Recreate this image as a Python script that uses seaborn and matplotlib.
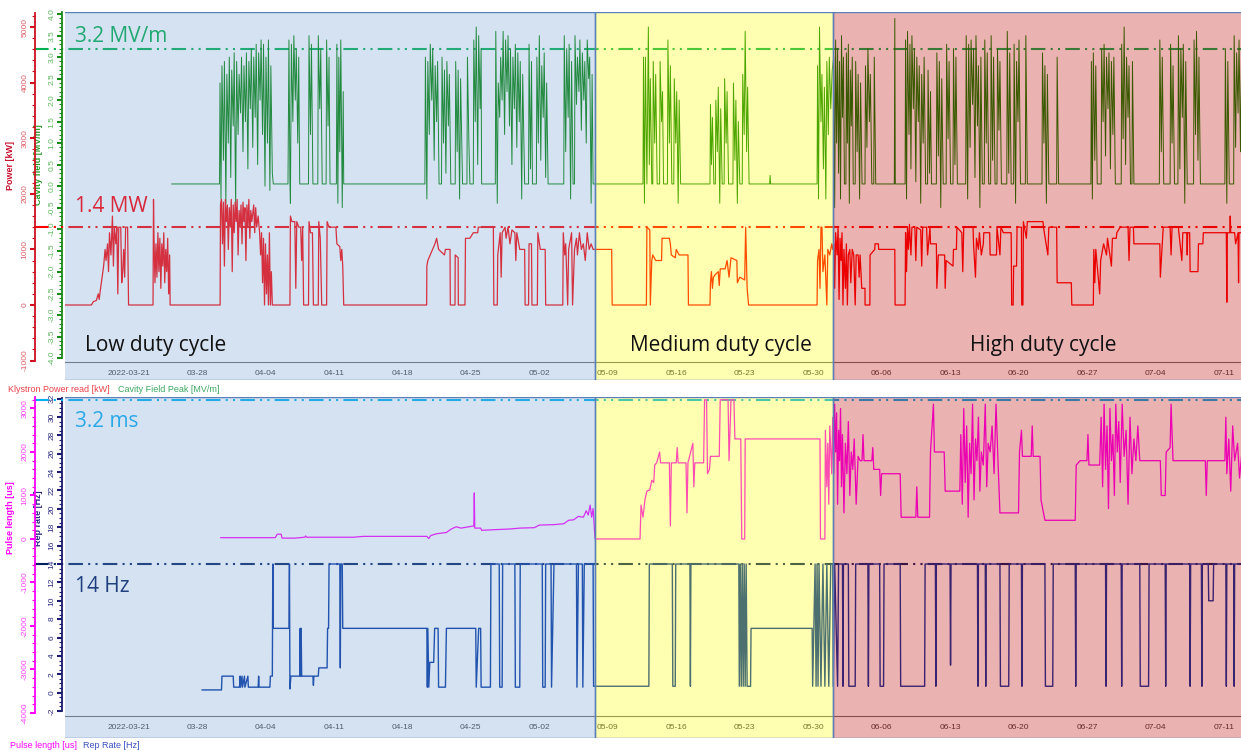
import numpy as np
import pandas as pd
import seaborn as sns
import matplotlib.pyplot as plt
import matplotlib.dates as mdates
from matplotlib.ticker import FixedLocator, FormatStrFormatter

# time axis: days counted from 2022-03-14
start = pd.Timestamp('2022-03-14')

# Cavity field peak [MV/m]  (day, value)
field_pts = [
    (11.4, 0.05), (16.3, 0.05),
    (16.35, 2.4), (16.45, -0.3), (16.55, 2.8), (16.7, 0.6), (16.8, 2.9), (16.95, -0.4), (17.05, 2.6), (17.2, 1.0),
    (17.3, 3.0), (17.45, 0.2), (17.55, 2.7), (17.7, 1.4), (17.8, 3.1), (17.95, -0.5), (18.05, 2.9), (18.2, 1.2),
    (18.3, 2.6), (18.45, 1.7), (18.55, 3.0), (18.7, 0.8), (18.8, 2.8), (18.95, 1.5), (19.05, 3.1), (19.2, 0.4),
    (19.3, 2.9), (19.45, 1.8), (19.55, 3.2), (19.7, 0.9), (19.8, 3.0), (19.95, 1.6), (20.05, 3.3), (20.2, 0.5),
    (20.3, 3.1), (20.45, 2.0), (20.55, 3.4), (20.7, 1.2), (20.8, 3.3), (20.95, 0.0), (21.05, 3.0), (21.2, 1.0),
    (21.3, 3.4), (21.45, -0.1), (21.55, 2.8), (21.7, 0.3), (21.8, 0.05),
    (23.3, 0.05), (23.4, 3.4), (23.5, 0.1), (23.55, -0.4), (23.65, 3.3), (23.8, 1.5), (23.9, 3.5), (24.05, 2.0),
    (24.15, 3.2), (24.3, 1.0), (24.4, 3.0), (24.5, 0.05),
    (25.4, 0.05), (25.45, 3.5), (25.6, 1.2), (25.7, 3.3), (25.85, 0.05),
    (26.35, 0.05), (26.4, 3.5), (26.55, 1.8), (26.65, 3.2), (26.8, 0.05),
    (27.2, 0.05), (27.25, 3.4), (27.4, 1.4), (27.5, 3.0), (27.6, 0.05),
    (28.25, 0.05), (28.3, 3.3), (28.4, -0.4), (28.5, 3.0), (28.6, 0.8), (28.7, 3.4), (28.85, -0.5), (28.95, 2.2),
    (29.0, 0.05),
    (37.3, 0.05), (37.35, 3.0), (37.5, -0.3), (37.6, 2.9), (37.75, 1.2), (37.85, 3.3), (38.0, 2.0), (38.1, 3.2),
    (38.25, 0.6), (38.35, 2.8), (38.5, 1.5), (38.6, 2.9), (38.75, 0.05), (39.0, 0.05), (39.05, 3.0), (39.2, 1.0),
    (39.3, 2.7), (39.45, 0.3), (39.55, 2.9), (39.7, 1.4), (39.8, 2.6), (39.95, 0.05), (40.4, 0.05), (40.45, 2.9),
    (40.6, 0.8), (40.7, 2.7), (40.85, -0.3), (40.95, 2.5), (41.15, 0.05), (41.6, 0.05), (41.65, 3.0), (41.8, 1.0),
    (41.9, 0.05), (42.25, 0.05), (42.3, 3.4), (42.45, 1.5), (42.55, 3.7), (42.7, 0.5), (42.8, 3.5), (42.95, 1.8),
    (43.05, 3.2), (43.1, 0.05),
    (44.5, 0.05), (44.55, 3.6), (44.7, -0.4), (44.8, 2.4), (44.95, 1.6), (45.05, 3.0), (45.2, 2.0), (45.3, 3.6),
    (45.45, 1.2), (45.55, 3.4), (45.7, 2.2), (45.8, 3.5), (45.95, 1.4), (46.05, 3.2), (46.2, 0.5), (46.3, 3.0),
    (46.45, 1.8), (46.55, 3.3), (46.7, 0.9), (46.8, 3.1), (46.95, 1.5), (47.05, 2.9), (47.2, -0.3), (47.3, 2.6),
    (47.5, 0.05), (47.9, 0.05), (47.95, 3.3), (48.1, 0.4), (48.2, 2.9), (48.3, 0.05), (48.7, 0.05), (48.75, 3.0),
    (48.9, 1.0), (49.0, 3.5), (49.15, 0.6), (49.25, 2.8), (49.4, 1.6), (49.5, 3.1), (49.65, 0.2), (49.75, 2.4),
    (49.9, 0.05),
    (51.5, 0.05), (51.55, 3.5), (51.7, 0.8), (51.8, 3.2), (51.95, 1.6), (52.05, 3.3), (52.2, -0.3), (52.3, 2.9),
    (52.45, 0.05), (52.6, 0.05), (52.65, 3.5), (52.8, 1.9), (52.9, 3.0), (53.05, 2.2), (53.15, 3.4), (53.3, 1.3),
    (53.4, 3.1), (53.55, 2.0), (53.65, 2.9), (53.8, 1.0), (53.9, 3.4), (54.05, 2.5), (54.15, 3.0), (54.3, -0.4),
    (54.4, 2.6), (54.5, 0.05),
    (59.6, 0.05), (59.65, 3.0), (59.75, -0.4), (59.85, 3.0), (60.0, 0.05), (60.15, 3.7), (60.25, 0.5), (60.35, 2.5),
    (60.5, 0.05), (60.6, 0.05), (60.65, 2.9), (60.8, 1.0), (60.9, 2.6), (61.05, 0.05), (61.3, 0.05), (61.35, 2.9),
    (61.5, 1.5), (61.6, 2.2), (61.7, 0.05), (62.1, 0.05), (62.15, 3.4), (62.3, 1.0), (62.4, 2.8), (62.55, 0.05),
    (62.75, 0.05), (62.8, 2.5), (62.95, 1.0), (63.05, 2.2), (63.2, -0.4), (63.3, 2.0), (63.45, 0.05),
    (66.45, 0.05), (66.5, 1.9), (66.6, 0.5), (66.7, 1.6), (66.85, 0.05), (67.0, 0.05), (67.05, 2.0), (67.2, 0.8),
    (67.3, 2.3), (67.45, -0.4), (67.55, 1.8), (67.7, 0.05), (67.9, 0.05), (67.95, 2.5), (68.1, 1.0), (68.2, 2.2),
    (68.35, 0.05), (68.8, 0.05), (68.85, 2.4), (69.0, 0.6), (69.1, 2.0), (69.25, -0.4), (69.35, 1.5), (69.5, 0.05),
    (69.75, 0.05), (69.8, 2.6), (69.95, 1.2), (70.05, 3.6), (70.2, 0.8), (70.3, 2.3), (70.45, 0.05),
    (72.55, 0.05), (72.6, 0.25), (72.65, 0.05),
    (77.4, 0.05), (77.45, 2.8), (77.55, -0.3), (77.65, 3.7), (77.8, 1.5), (77.9, 2.6), (78.05, 0.4), (78.15, 2.3),
    (78.3, -0.3), (78.4, 2.9), (78.55, 1.2), (78.65, 3.0), (78.8, 1.8), (78.95, 2.7),
    (79.1, 3.0), (79.2, -0.5), (79.3, 3.4), (79.4, 1.0), (79.5, 3.2), (79.6, 0.3), (79.7, 2.9), (79.8, -0.3),
    (79.9, 3.5), (80.0, 1.6), (80.1, 3.0), (80.2, 0.05), (80.35, 0.05), (80.4, 3.1), (80.5, 1.0), (80.6, 3.3),
    (80.7, -0.4), (80.8, 2.7), (80.9, 1.4), (81.0, 3.0), (81.1, 0.05), (81.3, 0.05), (81.35, 2.9), (81.5, 0.8),
    (81.6, 2.6), (81.75, -0.3), (81.85, 2.4), (82.0, 0.05), (82.3, 0.05), (82.35, 2.8), (82.5, 0.9), (82.6, 3.2),
    (82.75, 1.5), (82.85, 2.6), (83.0, 0.05), (83.2, 0.05), (83.25, 3.0), (83.4, 0.05), (85.3, 0.05), (85.35, 3.9),
    (85.4, 0.05), (86.4, 0.05), (86.45, 3.4), (86.55, -0.3), (86.65, 3.6), (86.8, 1.2), (86.9, 3.3), (87.0, 0.4),
    (87.1, 3.5), (87.25, 1.8), (87.35, 3.2), (87.5, 0.1), (87.6, 3.0), (87.75, 1.5), (87.85, 2.8), (88.0, -0.4),
    (88.1, 2.6), (88.25, 1.0), (88.35, 3.0), (88.5, 0.05), (88.7, 0.05), (88.75, 2.7), (88.9, 0.3), (89.0, 2.2),
    (89.1, 0.05), (89.6, 0.05), (89.65, 3.1), (89.8, 0.7), (89.9, 2.9), (90.05, -0.5), (90.15, 2.5), (90.3, 0.05),
    (90.6, 0.05), (90.65, 3.3), (90.8, 1.1), (90.9, 2.9), (91.05, 0.05), (91.3, 0.05), (91.35, 3.2), (91.5, 0.5),
    (91.6, 3.0), (91.75, 0.05), (92.6, 0.05), (92.65, 3.5), (92.8, -0.3), (92.9, 3.3), (93.05, 0.9), (93.15, 3.4),
    (93.3, 1.9), (93.4, 3.2), (93.55, 0.2), (93.65, 3.5), (93.8, 1.4), (93.9, 2.8), (94.05, -0.5), (94.15, 3.0),
    (94.3, 0.05), (94.5, 0.05), (94.55, 3.4), (94.7, 1.0), (94.8, 3.1), (94.95, 0.05), (95.15, 0.05), (95.2, 3.5),
    (95.35, 0.6), (95.45, 3.0), (95.6, 0.05), (95.8, 0.05), (95.85, 3.2), (96.0, 1.3), (96.1, 2.9), (96.25, 0.05),
    (96.8, 0.05), (96.85, 3.6), (97.0, 0.3), (97.1, 3.1), (97.25, 0.05), (97.5, 0.05), (97.55, 3.3), (97.7, -0.4),
    (97.8, 2.9), (97.95, 1.5), (98.05, 3.4), (98.2, 0.05), (98.7, 0.05), (98.75, 3.5), (98.9, 0.05),
    (100.4, 0.05), (100.45, 3.1), (100.6, 1.0), (100.7, 2.8), (100.85, -0.4), (100.95, 2.6), (101.1, 0.05),
    (101.9, 0.05), (101.95, 3.0), (102.1, 0.05),
    (105.4, 0.05), (105.45, 2.9), (105.55, -0.3), (105.65, 3.1), (105.8, 0.6), (105.9, 2.8), (106.05, 0.05),
    (106.45, 0.05), (106.5, 3.2), (106.65, 1.5), (106.75, 3.3), (106.9, 0.7), (107.0, 3.0), (107.15, 1.8),
    (107.25, 3.1), (107.4, 0.4), (107.5, 2.9), (107.65, 1.2), (107.75, 3.0), (107.9, 0.05), (108.5, 0.05),
    (108.55, 3.3), (108.7, 1.1), (108.8, 3.7), (108.95, 0.5), (109.05, 3.0), (109.2, 1.6), (109.3, 2.8),
    (109.45, 0.05), (109.6, 0.05), (109.65, 2.9), (109.8, 0.05),
    (112.4, 0.05), (112.45, 3.4), (112.6, 0.8), (112.7, 3.0), (112.85, 0.05), (113.5, 0.05), (113.55, 3.3),
    (113.7, 1.0), (113.8, 2.8), (113.95, 0.05), (114.3, 0.05), (114.35, 3.5), (114.5, 0.4), (114.6, 3.2),
    (114.75, 1.6), (114.85, 3.3), (115.0, -0.4), (115.1, 2.9), (115.25, 0.05), (115.9, 0.05), (115.95, 3.4),
    (116.1, 1.2), (116.2, 3.6), (116.35, 0.6), (116.45, 3.0), (116.6, 0.05),
    (119.1, 0.05), (119.15, 3.2), (119.3, -0.4), (119.4, 2.9), (119.55, 0.05), (120.0, 0.05), (120.05, 3.5),
    (120.2, 0.9), (120.3, 3.1), (120.45, 1.7), (120.55, 3.4), (120.7, 0.8), (120.8, 3.0),
]

# Klystron power read [kW]
power_pts = [
    (0.5, 0), (3.2, 0), (3.4, 60), (3.7, 80), (3.9, 200), (4.0, 100), (4.1, 250), (4.3, 500), (4.45, 700),
    (4.6, 1000), (4.7, 800), (4.85, 1100), (4.95, 600), (5.05, 1300), (5.2, 900), (5.35, 1600), (5.45, 700),
    (5.55, 1400), (5.7, 1100), (5.8, 1400), (5.9, 200), (6.0, 1400), (6.2, 1400), (6.3, 400), (6.4, 600),
    (6.5, 1000), (6.6, 500), (6.7, 1400), (6.9, 1400), (7.0, 0),
    (9.5, 0), (9.55, 1900), (9.6, 1200), (9.7, 400), (9.8, 1100), (9.9, 500), (10.0, 1300), (10.1, 600),
    (10.2, 1200), (10.3, 300), (10.4, 1100), (10.5, 700), (10.6, 1300), (10.7, 400), (10.8, 1000), (10.9, 600),
    (11.0, 1200), (11.1, 200), (11.2, 900), (11.25, 0),
    (16.36, 0), (16.4, 1800), (16.5, 1900), (16.6, 1100), (16.7, 1850), (16.8, 700), (16.9, 1900), (17.0, 1500),
    (17.1, 1800), (17.2, 1000), (17.3, 1750), (17.4, 1400), (17.5, 1900), (17.6, 600), (17.7, 1800), (17.8, 1300),
    (17.9, 1850), (18.0, 1500), (18.1, 1900), (18.2, 900), (18.3, 1700), (18.4, 1400), (18.5, 1800), (18.6, 1100),
    (18.7, 1850), (18.8, 1500), (18.9, 1750), (19.0, 800), (19.1, 1800), (19.2, 1400), (19.3, 1900), (19.4, 1200),
    (19.5, 1700), (19.6, 1500), (19.8, 1800), (19.9, 1300), (20.0, 1750), (20.1, 1400), (20.25, 1600),
    (20.4, 1300), (20.5, 900), (20.6, 1300), (20.7, 400), (20.8, 1200), (20.9, 0), (21.0, 1100), (21.1, 200),
    (21.2, 900), (21.3, 0), (21.4, 1300), (21.5, 0), (21.6, 600), (21.7, 0),
    (23.5, 0), (23.55, 1600), (23.7, 1500), (24.0, 1500), (24.1, 300), (24.2, 1500), (24.4, 1400), (24.6, 1400),
    (24.7, 800), (24.8, 1400), (24.9, 0), (25.4, 0), (25.45, 1500), (25.6, 1300), (25.8, 1300), (25.9, 0),
    (26.4, 0), (26.45, 1500), (26.6, 1200), (26.75, 0), (27.25, 0), (27.3, 1500), (27.5, 1400), (28.2, 1400),
    (28.3, 1100), (28.6, 1050), (28.7, 800), (28.8, 1000), (28.9, 700), (29.0, 0),
    (37.48, 0), (37.5, 700), (37.6, 800), (38.33, 1100), (38.5, 1200), (38.7, 1000), (39.3, 900), (39.4, 1000),
    (39.87, 1000), (39.9, 0), (40.38, 0), (40.4, 900), (40.7, 850), (40.72, 0), (41.4, 0), (41.45, 1200),
    (41.9, 1200), (42.25, 1300), (42.7, 1300), (42.76, 1400), (44.3, 1400), (44.35, 0), (44.7, 0), (44.75, 900),
    (45.0, 1300), (45.1, 500), (45.2, 1300), (45.5, 1400), (45.6, 1200), (45.8, 1400), (46.0, 1100),
    (46.2, 1350), (46.5, 1300), (46.6, 800), (46.7, 1300), (47.0, 1000), (47.5, 1000), (47.55, 0), (47.9, 0),
    (47.95, 1100), (48.2, 1100), (48.25, 0), (48.8, 0), (48.85, 1300), (49.1, 1000), (49.6, 1000), (49.65, 0),
    (51.4, 0), (51.45, 1300), (51.6, 900), (51.7, 1100), (51.9, 0), (52.0, 1000), (52.3, 1300), (52.4, 0),
    (52.6, 1000), (52.8, 1200), (52.9, 900), (53.1, 1300), (53.3, 1000), (53.5, 1100), (53.7, 800), (53.9, 1300),
    (54.1, 1000), (54.3, 1100), (54.5, 1000),
    (56.4, 1000), (56.45, 0), (59.95, 0), (60.0, 1400), (60.3, 1350), (60.35, 0), (60.5, 800), (60.6, 900),
    (60.9, 800), (61.5, 800), (61.55, 1200), (62.3, 1200), (62.4, 1100), (62.5, 900), (62.9, 850), (63.0, 1000),
    (63.3, 900), (64.2, 900), (64.25, 0), (66.45, 0), (66.5, 400), (66.6, 600), (66.7, 300), (66.8, 500),
    (67.0, 550), (67.3, 600), (67.4, 350), (67.5, 650), (68.0, 650), (68.2, 800), (68.4, 500), (68.6, 850),
    (69.2, 800), (69.25, 400), (69.5, 500), (70.0, 450), (70.1, 1400), (70.25, 300), (70.4, 0),
    (77.4, 0), (77.45, 800), (77.6, 1000), (77.7, 300), (77.8, 1400), (77.9, 1400), (78.0, 600), (78.2, 900),
    (78.4, 0), (78.5, 1000), (78.7, 900), (78.9, 1100), (79.0, 1000),
    (79.1, 1100), (79.2, 300), (79.3, 1300), (79.45, 900), (79.55, 1400), (79.65, 100), (79.75, 1200),
    (79.85, 800), (79.95, 1300), (80.05, 0), (80.15, 1000), (80.3, 300), (80.4, 1100), (80.5, 0), (80.6, 900),
    (80.75, 1000), (80.85, 400), (81.0, 1000), (81.15, 900), (81.3, 0), (81.4, 900), (81.6, 900), (81.7, 500),
    (81.8, 900), (81.97, 300), (82.3, 300), (82.31, 0), (82.8, 0), (82.82, 900), (83.3, 1000), (83.33, 1100),
    (83.67, 1100), (83.7, 1000), (85.35, 1000), (85.38, 0), (86.4, 0), (86.45, 1300), (86.55, 600),
    (86.65, 1400), (86.75, 1000), (86.85, 1450), (87.0, 900), (87.1, 1400), (87.4, 1400), (87.5, 800),
    (87.6, 1400), (88.0, 1350), (88.1, 700), (88.2, 1400), (88.6, 1400), (88.7, 900), (88.95, 1400),
    (89.0, 1100), (89.6, 1100), (89.65, 300), (89.8, 900), (90.45, 900), (90.5, 300), (90.6, 800), (91.3, 700),
    (91.35, 1000), (91.65, 1000), (91.7, 1400), (92.2, 1300), (92.3, 600), (92.4, 1400), (93.35, 1400),
    (93.4, 1100), (93.6, 500), (93.7, 1200), (93.9, 1000), (94.0, 1300), (94.2, 900), (94.4, 1100),
    (94.45, 1300), (95.05, 1300), (95.1, 900), (95.75, 900), (95.8, 1400), (96.1, 900), (96.2, 1400),
    (96.45, 1300), (97.25, 1300), (97.3, 0), (97.45, 0), (97.5, 700), (97.8, 700), (97.85, 1400), (98.3, 1400),
    (98.33, 0), (98.45, 0), (98.5, 1500), (98.8, 1200), (98.9, 1500), (100.5, 1500), (100.55, 1400),
    (101.0, 900), (101.1, 1400), (101.9, 1400), (101.95, 400), (103.4, 400), (103.45, 0), (105.65, 0),
    (105.7, 1000), (105.8, 400), (105.9, 1000), (106.0, 800), (106.3, 200), (106.4, 800), (106.7, 1100),
    (107.0, 900), (107.1, 1200), (107.5, 700), (107.6, 1200), (108.0, 1200), (108.05, 1300), (108.4, 1400),
    (109.2, 1400), (109.3, 800), (109.4, 1400), (109.75, 1400), (109.8, 1100), (112.45, 1100), (112.5, 500),
    (112.8, 1400), (113.5, 1400), (113.6, 900), (113.7, 1400), (114.35, 1400), (114.4, 1300), (114.7, 800),
    (114.8, 1300), (115.2, 1300), (115.25, 900), (115.3, 1300), (115.5, 1300), (115.55, 600), (116.35, 600),
    (116.4, 1100), (116.85, 1100), (116.9, 1300), (119.25, 1300), (119.3, 50), (119.35, 1300), (119.6, 1300),
    (119.65, 1600), (119.7, 1300), (120.1, 1300), (120.2, 1100), (120.45, 1300), (120.5, 400), (120.55, 1300),
    (120.8, 1300),
]

# Pulse length [us]
pulse_pts = [
    (16.4, 30), (22.0, 30), (22.2, 110), (22.6, 110), (22.7, 20), (24.0, 20), (25.0, 40), (25.1, 70),
    (25.2, 40), (30.0, 40), (31.0, 60), (37.5, 60), (37.7, 10), (37.9, 80), (38.5, 120), (39.5, 150),
    (40.0, 230), (40.5, 280), (41.0, 250), (42.3, 300), (42.35, 1060), (42.4, 250), (43.0, 250), (43.1, 200),
    (46.0, 230), (47.0, 250), (48.5, 260), (49.0, 320), (50.5, 330), (51.5, 350), (52.0, 430), (52.5, 440),
    (53.0, 520), (53.5, 500), (53.8, 650), (54.0, 550), (54.2, 780), (54.35, 500), (54.5, 700),
    (54.7, 0), (59.3, 0), (59.4, 780), (59.6, 500), (59.8, 900), (60.0, 1100), (60.3, 1130), (60.5, 1350),
    (60.7, 1300), (60.8, 1700), (61.0, 1750), (61.3, 2000), (61.4, 1750), (62.3, 1750), (62.4, 300),
    (62.5, 1750), (63.0, 1750), (63.1, 2100), (63.2, 1750), (64.0, 1750), (64.1, 600), (64.2, 1750),
    (64.7, 2200), (64.8, 1200), (64.9, 1750), (65.8, 1750), (65.9, 3200), (66.1, 3200), (66.2, 1500),
    (66.4, 1600), (66.5, 1900), (67.4, 1900), (67.5, 3200), (68.0, 3200), (68.3, 3200), (68.4, 1800),
    (68.6, 3200), (68.9, 3200), (69.0, 2300), (69.6, 2300), (69.7, 0), (70.0, 0), (70.05, 2300),
    (77.7, 2300), (77.75, 0), (78.2, 0), (78.25, 2500), (78.4, 1200), (78.5, 2200), (78.6, 800),
    (78.7, 2600), (78.9, 1500),
    (79.0, 2800), (79.1, 1500), (79.2, 3100), (79.3, 2000), (79.4, 2900), (79.5, 800), (79.6, 2500),
    (79.7, 1800), (79.8, 3000), (79.9, 1200), (80.0, 2400), (80.15, 600), (80.3, 2200), (80.45, 1500),
    (80.6, 2700), (80.75, 1000), (80.9, 2000), (81.05, 1600), (81.2, 2300), (81.4, 800), (81.6, 1900),
    (81.8, 1800), (82.0, 1800), (82.1, 2400), (82.2, 1800), (83.0, 1800), (83.1, 2100), (83.2, 1600),
    (83.8, 1600), (83.9, 1000), (84.0, 1500), (85.9, 1500), (86.0, 500), (86.4, 500), (87.5, 500),
    (87.6, 1200), (87.7, 500), (88.9, 500), (89.0, 2000), (89.3, 3100), (89.4, 2000), (90.4, 2000),
    (90.5, 1100), (92.0, 1100), (92.1, 2400), (92.25, 800), (92.4, 3000), (92.55, 1300), (92.7, 2600),
    (92.85, 500), (93.0, 2200), (93.15, 1500), (93.3, 3100), (93.45, 900), (93.6, 2300), (93.75, 1800),
    (93.9, 2800), (94.05, 1100), (94.2, 2000), (94.4, 1700), (94.6, 3100), (94.75, 1200), (94.9, 2200),
    (95.1, 2000), (95.3, 2600), (95.5, 1500), (95.7, 3100), (95.9, 1800), (96.1, 600), (98.0, 600),
    (98.1, 2000), (98.3, 2500), (98.4, 1900), (99.3, 1900), (99.4, 2600), (99.5, 1900), (100.2, 1900),
    (100.3, 900), (100.7, 430), (103.8, 430), (103.9, 1700), (104.3, 1800), (105.0, 1800), (105.1, 2400),
    (105.2, 1700), (106.3, 1700), (106.45, 2800), (106.6, 1200), (106.75, 3100), (106.9, 1600),
    (107.05, 2600), (107.2, 700), (107.35, 3000), (107.5, 1800), (107.65, 2400), (107.8, 1000),
    (107.95, 3100), (108.1, 2000), (108.25, 2700), (108.4, 1300), (108.6, 3100), (108.8, 1900),
    (109.0, 2500), (109.2, 800), (109.4, 2800), (109.6, 1500), (109.8, 2300), (110.0, 1800), (110.2, 2600),
    (110.4, 1800), (112.5, 1800), (112.6, 1000), (113.0, 1000), (113.1, 2000), (113.5, 2100), (113.6, 3100),
    (113.8, 1800), (114.0, 1800), (117.1, 1800), (117.2, 1000), (117.3, 1800), (119.1, 1800), (119.2, 2800),
    (119.3, 1500), (119.5, 2300), (119.7, 1100), (119.9, 2600), (120.1, 1800), (120.4, 2200), (120.6, 1400),
    (120.8, 1900),
]

# Rep rate [Hz]
rep_pts = [
    (14.5, 0.3), (16.5, 0.3), (16.55, 1.8), (17.7, 1.8), (17.75, 0.6), (18.35, 0.6), (18.4, 1.8), (18.45, 0.6),
    (18.6, 1.8), (18.65, 0.6), (18.85, 1.8), (18.9, 0.6), (19.2, 1.8), (19.25, 0.6), (20.25, 0.6), (20.3, 1.8),
    (20.35, 0.6), (21.45, 0.6), (21.5, 1.8), (21.7, 1.8), (21.75, 14), (21.8, 7), (23.4, 7), (23.45, 14),
    (23.5, 0.4), (23.6, 1.8), (24.5, 1.8), (24.55, 7), (24.6, 1.8), (24.65, 7), (24.7, 1.8), (25.85, 1.8),
    (25.9, 0.8), (25.95, 1.8), (26.4, 1.8), (26.45, 2.7), (27.3, 2.7), (27.35, 7), (27.45, 7), (27.5, 14),
    (28.6, 14), (28.65, 2.7), (28.7, 14), (28.85, 14), (28.9, 7), (37.5, 7), (37.55, 0.6), (37.6, 7),
    (37.7, 0.6), (37.8, 3.3), (38.2, 3.3), (38.3, 7), (38.65, 7), (38.7, 0.6), (39.4, 0.6), (39.5, 7),
    (42.5, 7), (42.55, 0.6), (42.8, 7), (43.0, 7), (43.05, 0.6), (44.0, 0.6), (44.05, 14), (44.9, 14),
    (44.95, 0.6), (45.2, 0.6), (45.25, 14), (46.5, 14), (46.55, 0.6), (47.0, 0.6), (47.05, 14), (49.3, 14),
    (49.35, 0.6), (49.6, 0.6), (49.65, 14), (50.2, 14), (50.25, 0.6), (50.5, 14), (52.8, 14), (52.85, 0.6),
    (53.0, 14), (53.4, 14), (53.45, 0.6), (53.6, 14), (54.5, 14), (54.55, 0.7),
    (60.2, 0.7), (60.25, 14), (62.6, 14), (62.65, 0.7), (62.9, 0.7), (62.95, 14), (64.4, 14), (64.45, 0.7),
    (64.5, 14), (69.4, 14), (69.45, 0.7), (69.55, 14), (69.65, 0.7), (69.75, 14), (69.85, 0.7), (69.95, 14),
    (70.05, 0.7), (70.15, 14), (70.25, 0.7), (70.6, 0.7), (70.65, 7), (76.9, 7), (76.95, 0.7), (77.2, 14),
    (77.3, 0.7), (77.4, 14), (77.5, 0.7), (77.6, 14), (77.8, 0.7), (78.0, 14), (78.2, 0.7), (78.4, 14),
    (78.6, 0.7), (78.8, 14), (79.0, 14),
    (79.05, 0.7), (79.2, 14), (79.5, 0.7), (79.6, 14), (80.0, 14), (80.05, 0.7), (80.1, 14), (80.6, 14),
    (80.65, 0.7), (81.3, 0.7), (81.35, 14), (82.6, 14), (82.65, 0.7), (82.7, 14), (83.8, 14), (83.85, 0.7),
    (84.2, 0.7), (84.25, 14), (85.9, 14), (85.95, 0.7), (88.4, 0.7), (88.45, 14), (89.5, 14), (89.55, 0.7),
    (89.6, 14), (91.0, 14), (91.05, 3), (91.1, 14), (93.8, 14), (93.85, 0.7), (93.9, 14), (94.6, 14),
    (94.65, 0.7), (94.7, 14), (96.1, 14), (96.15, 0.7), (97.0, 0.7), (97.05, 14), (98.3, 14), (98.35, 0.7),
    (98.4, 14), (100.7, 14), (100.75, 0.7), (101.5, 0.7), (101.55, 14), (103.8, 14), (103.85, 0.7),
    (103.9, 14), (106.9, 14), (106.95, 0.7), (107.0, 14), (108.5, 14), (108.55, 0.7), (108.6, 14),
    (110.4, 14), (110.45, 0.7), (111.3, 0.7), (111.35, 14), (113.0, 14), (113.05, 0.7), (113.1, 14),
    (115.5, 14), (115.55, 0.7), (115.6, 14), (116.7, 14), (116.75, 0.7), (116.8, 14), (117.4, 14),
    (117.45, 10), (117.9, 10), (117.95, 14), (119.2, 14), (119.25, 0.7), (119.3, 14), (120.0, 14),
    (120.05, 0.7), (120.1, 14), (120.8, 14),
]

# duty-cycle periods (day offsets) and shading
region_names = ['Low duty cycle', 'Medium duty cycle', 'High duty cycle']
region_start = [0.0, 54.7, 79.0]
region_end = [54.7, 79.0, 125.0]
region_colors = [(0.451, 0.635, 0.831, 0.3), (1.0, 1.0, 0.0, 0.3), (0.753, 0.0, 0.0, 0.3)]

tick_dates = pd.date_range('2022-03-21', periods=17, freq='7D')
tick_labels = ['2022-03-21', '03-28', '04-04', '04-11', '04-18', '04-25', '05-02', '05-09', '05-16',
               '05-23', '05-30', '06-06', '06-13', '06-20', '06-27', '07-04', '07-11']


def to_frame(pts, name):
    d, v = zip(*pts)
    return pd.DataFrame({'time': start + pd.to_timedelta(list(d), unit='D'), name: list(v)})


field_df = to_frame(field_pts, 'field')
power_df = to_frame(power_pts, 'power')
pulse_df = to_frame(pulse_pts, 'pulse')
rep_df = to_frame(rep_pts, 'rep')

sns.set_style('white')
plt.rcParams['font.family'] = ['Liberation Sans', 'DejaVu Sans']
plt.rcParams['axes.unicode_minus'] = False

W, H = 1241, 750
fig = plt.figure(figsize=(W / 100, H / 100), dpi=100)


def box(top, bottom):
    return [65 / W, 1 - bottom / H, (W - 65) / W, (bottom - top) / H]


ax_f = fig.add_axes(box(12, 380))
ax_p = ax_f.twinx()
ax_r = fig.add_axes(box(397, 738))
ax_u = ax_r.twinx()

x0 = start + pd.Timedelta(days=0.5)
x1 = start + pd.Timedelta(days=120.75)
dash = (7, 2.5, 1, 2.5, 1, 2.5)

# lines
sns.lineplot(data=field_df, x='time', y='field', ax=ax_f, color='#008000', lw=0.7,
             estimator=None, sort=False)
sns.lineplot(data=power_df, x='time', y='power', ax=ax_p, color='#ff0000', lw=0.9,
             estimator=None, sort=False)
sns.lineplot(data=rep_df, x='time', y='rep', ax=ax_r, color='#0032a0', lw=1.0,
             estimator=None, sort=False)
sns.lineplot(data=pulse_df, x='time', y='pulse', ax=ax_u, color='#ff00ff', lw=0.9,
             estimator=None, sort=False)

# limit lines
ax_f.axhline(3.2, xmin=-0.026, xmax=1, color='#00b050', lw=1.5, dashes=dash, clip_on=False, zorder=1)
ax_p.axhline(1400, xmin=-0.026, xmax=1, color='#ff0000', lw=1.5, dashes=dash, clip_on=False, zorder=1)
ax_u.axhline(3200, xmin=-0.026, xmax=1, color='#00b0f0', lw=1.5, dashes=dash, clip_on=False, zorder=1)
ax_r.axhline(14, xmin=-0.026, xmax=1, color='#002060', lw=1.5, dashes=dash, clip_on=False, zorder=1)

# limits
for ax in (ax_f, ax_r):
    ax.set_xlim(x0, x1)
ax_f.set_ylim(-4.51, 4.05)
ax_p.set_ylim(-1349, 5270)
ax_r.set_ylim(-4.93, 32.17)
ax_u.set_ylim(-4575, 3264)

# shaded duty-cycle periods drawn over the traces
for ax in (ax_p, ax_u):
    for a, b, c in zip(region_start, region_end, region_colors):
        ax.axvspan(start + pd.Timedelta(days=a), start + pd.Timedelta(days=b),
                   facecolor=c, edgecolor='#5b80b8', lw=1, zorder=5)

# spines and ticks
for ax in (ax_f, ax_p, ax_r, ax_u):
    ax.spines['top'].set_visible(False)
    ax.spines['right'].set_visible(False)
    ax.set_xlabel('')
for ax in (ax_p, ax_u):
    ax.spines['bottom'].set_visible(False)
    ax.spines['left'].set_visible(True)
    ax.yaxis.tick_left()
    ax.yaxis.set_label_position('left')
    ax.spines['left'].set_position(('outward', 21.6))
for ax in (ax_f, ax_r):
    ax.spines['left'].set_position(('outward', 2.2))
ax_f.spines['bottom'].set_position(('axes', 0.049))
ax_r.spines['bottom'].set_position(('axes', 0.0645))


def style_y(ax, col, labcol, bounds, major, minor, fmt=None):
    ax.spines['left'].set_color(col)
    ax.spines['left'].set_linewidth(1.3)
    ax.spines['left'].set_bounds(*bounds)
    ax.yaxis.set_major_locator(FixedLocator(major))
    ax.yaxis.set_minor_locator(FixedLocator(minor))
    if fmt:
        ax.yaxis.set_major_formatter(FormatStrFormatter(fmt))
    ax.tick_params(axis='y', which='major', length=3.5, width=1.5, color=col,
                   labelcolor=labcol, labelsize=6, pad=1, labelrotation=90)
    ax.tick_params(axis='y', which='minor', length=2, width=0.8, color=col)
    for t in ax.get_yticklabels():
        t.set_va('center')


style_y(ax_f, '#1a8a1a', '#5cb85c', (-4, 4.05), np.arange(-4, 4.01, 0.5), np.arange(-4, 4.01, 0.1), '%.1f')
style_y(ax_p, '#d01020', '#e0606a', (-1000, 5250), range(-1000, 5001, 1000), range(-1000, 5201, 200))
style_y(ax_r, '#1a1a70', '#2a2a80', (-2, 32.1), range(-2, 33, 2), np.arange(-2, 32.1, 0.5))
style_y(ax_u, '#ff00ff', '#ff40ff', (-4000, 3264), range(-4000, 3001, 1000), range(-4000, 3201, 200))

ax_p.set_ylabel('Power [kW]', color='#c8102e', fontweight='bold', fontsize=6.5)
ax_p.yaxis.set_label_coords(-0.0425, 0.584)
ax_f.set_ylabel('Cavity field [MV/m]', color='#2a9a2a', fontweight='bold', fontsize=6.5)
ax_f.yaxis.set_label_coords(-0.0185, 0.584)
ax_u.set_ylabel('Pulse length [us]', color='#ff00ff', fontweight='bold', fontsize=6.5)
ax_u.yaxis.set_label_coords(-0.0425, 0.645)
ax_r.set_ylabel('Rep rate [Hz]', color='#2a2a80', fontweight='bold', fontsize=6.5)
ax_r.yaxis.set_label_coords(-0.0185, 0.645)

for ax in (ax_f, ax_r):
    ax.spines['bottom'].set_color('#707070')
    ax.set_xticks(tick_dates, labels=tick_labels)
    ax.xaxis.set_minor_locator(mdates.DayLocator())
    ax.tick_params(axis='x', which='major', length=4, width=1.2, color='#333333',
                   labelsize=6, labelcolor='#404040', pad=1.5)
    ax.tick_params(axis='x', which='minor', length=2.2, width=0.8, color='#444444')

# annotations
big = dict(family=['Open Sans', 'DejaVu Sans'], fontsize=15, va='baseline')
fig.text(75 / W, 1 - 42 / H, '3.2 MV/m', color='#20a872', **big)
fig.text(75 / W, 1 - 212 / H, '1.4 MW', color='#d8283a', **big)
fig.text(75 / W, 1 - 427 / H, '3.2 ms', color='#2aa8e8', **big)
fig.text(75 / W, 1 - 592 / H, '14 Hz', color='#1f3f7f', **big)
for name, xp in zip(region_names, [85, 630, 970]):
    fig.text(xp / W, 1 - 351 / H, name, color='#111111', **big)

small = dict(fontsize=6.5, va='center')
fig.text(8 / W, 1 - 390 / H, 'Klystron Power read [kW]', color='#e8424a', **small)
fig.text(118 / W, 1 - 390 / H, 'Cavity Field Peak [MV/m]', color='#3aa860', **small)
fig.text(10 / W, 1 - 745 / H, 'Pulse length [us]', color='#ff00ff', **small)
fig.text(83 / W, 1 - 745 / H, 'Rep Rate [Hz]', color='#3a50c0', **small)

fig.savefig('out.png', dpi=100)
